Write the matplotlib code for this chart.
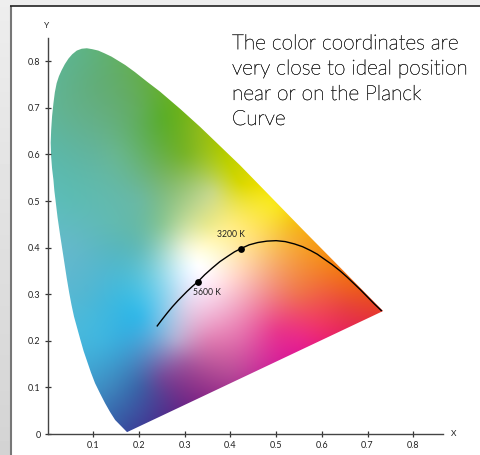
import numpy as np
import matplotlib
matplotlib.use("Agg")
import matplotlib.pyplot as plt
import matplotlib.patheffects as pe
from matplotlib.colors import to_rgb
from matplotlib.patches import Polygon

# Gamut outline
locus_x = [0.174,0.161,0.148,0.137,0.126,0.115,0.104,0.095,0.087,0.079,0.072,0.065,0.058,0.0525,0.0475,0.042,0.037,0.032,0.027,0.022,0.018,0.015,0.013,0.010,0.008,0.007,0.008,0.010,0.013,0.016,0.020,0.025,0.031,0.038,0.046,0.054,0.064,0.075,0.086,0.098,0.111,0.125,0.140,0.155,0.170,0.191,0.218,0.246,0.290,0.334,0.421,0.559,0.734]
locus_y = [0.004,0.017,0.030,0.047,0.066,0.087,0.109,0.132,0.155,0.178,0.202,0.227,0.252,0.277,0.303,0.335,0.367,0.399,0.431,0.465,0.498,0.522,0.545,0.570,0.595,0.625,0.652,0.682,0.710,0.733,0.753,0.768,0.781,0.794,0.806,0.815,0.823,0.827,0.828,0.826,0.823,0.817,0.810,0.801,0.792,0.777,0.756,0.735,0.698,0.659,0.577,0.438,0.264]

# Colour samples: x, y, colour
sample_x = [0.08,0.03,0.015,0.05,0.05,0.08,0.12,0.14,0.175,0.20,0.15,0.20,0.15,0.20,0.25,0.30,0.38,0.42,0.48,0.55,0.60,0.66,0.72,0.33,0.30,0.25,0.35,0.40,0.45,0.50,0.55,0.60,0.65,0.45,0.38,0.30,0.27,0.28,0.35,0.42,0.50,0.55,0.60,0.30,0.40,0.25,0.25,0.20,0.10,0.10,0.15,0.20,0.12,0.46,0.50,0.53,0.33,0.25,0.20,0.36]
sample_y = [0.81,0.70,0.60,0.50,0.40,0.30,0.20,0.10,0.02,0.10,0.25,0.25,0.60,0.70,0.68,0.60,0.58,0.54,0.50,0.43,0.37,0.31,0.27,0.36,0.40,0.45,0.45,0.45,0.38,0.35,0.30,0.30,0.27,0.30,0.28,0.28,0.30,0.20,0.20,0.20,0.22,0.20,0.23,0.15,0.13,0.12,0.08,0.05,0.60,0.75,0.45,0.50,0.33,0.53,0.49,0.45,0.65,0.55,0.40,0.52]
sample_c = ['#5fb283','#62b391','#5db8a8','#5dbcb5','#63b9c9','#52b7d3','#3fb3de','#3e84bd','#3a4f9f','#3f62a7','#39b6e2','#38b8e8','#68b68e','#62ad58','#5cae2c','#7ab52a','#b8cf10','#d8d800','#f8e820','#f7b020','#f58a1e','#ee5d22','#e8402a','#ffffff','#e9f2d8','#8cc796','#e8e98e','#fdec80','#fdd090','#f6a26b','#f0714f','#f06040','#e8423f','#f4a0a8','#f4bfd7','#d8d4ec','#a8d8f0','#b0a8d0','#dc80b4','#e06aaa','#e83a8c','#e8278a','#ee3366','#a05aa0','#b84a98','#724b9a','#5a3d92','#3f4f9f','#63b59c','#62ae7a','#62bab0','#6cb9a0','#4fb8d4','#ecdf05','#f9e61c','#f6c31d','#8dbb1a','#78b66a','#66bcb8','#c8d880']

# Planck curve
planck_x = [0.240,0.250,0.262,0.273,0.285,0.295,0.305,0.317,0.329,0.344,0.360,0.377,0.395,0.409,0.423,0.441,0.460,0.480,0.500,0.520,0.540,0.558,0.575,0.590,0.603,0.622,0.640,0.655,0.669,0.685,0.700,0.715,0.730]
planck_y = [0.232,0.245,0.260,0.273,0.286,0.296,0.306,0.317,0.327,0.342,0.356,0.370,0.382,0.391,0.398,0.406,0.411,0.414,0.415,0.413,0.408,0.402,0.394,0.386,0.377,0.364,0.350,0.337,0.324,0.309,0.294,0.279,0.265]
marker_x = [0.329,0.423]
marker_y = [0.327,0.398]
marker_labels = ['5600 K','3200 K']
x_ticks = [0.1,0.2,0.3,0.4,0.5,0.6,0.7,0.8]
y_ticks = [0,0.1,0.2,0.3,0.4,0.5,0.6,0.7,0.8]
y_labels = ['0','0.1','0.2','0.3','0.4','0.5','0.6','0.7','0.8']
caption_lines = ['The color coordinates are', 'very close to ideal position', 'near or on the Planck', 'Curve']

W, H = 481, 455
fig = plt.figure(figsize=(W/100, H/100), dpi=100, facecolor='white')

# Page backdrop and frame
bg = fig.add_axes([0, 0, 1, 1], zorder=0)
bg.set_xlim(0, W); bg.set_ylim(H, 0); bg.axis('off')
bg.imshow(np.linspace(0.93, 0.83, 64)[:, None], cmap='gray', vmin=0, vmax=1, extent=[0, 11, H, 0], aspect='auto')
bg.fill_between([0, W], 0, 6, color='#eeeeee', lw=0)
bg.fill_between([11, W], 6, H, color='white', lw=0)
bg.plot([11, 11], [6, H], color='#777777', lw=1.5, solid_capstyle='butt')
bg.plot([10, W], [6.3, 6.3], color='#222222', lw=1.2, solid_capstyle='butt')
bg.set_xlim(0, W); bg.set_ylim(H, 0)

# Chart
x0, x1, y0, y1 = 47.5, 443, 434, 38
ax = fig.add_axes([x0/W, 1-y0/H, (x1-x0)/W, (y0-y1)/H], zorder=1)
ax.patch.set_alpha(0)
xmax, ymax = 0.865, 0.85

# Smooth colour field through the samples (thin-plate surface)
sx, sy = np.array(sample_x), np.array(sample_y)
cols = np.array([to_rgb(c) for c in sample_c])
def phi(r2):
    return 0.5*r2*np.log(r2 + 1e-12)
n = len(sx)
K = phi((sx[:, None]-sx)**2 + (sy[:, None]-sy)**2) + 1e-4*np.eye(n)
P = np.column_stack([np.ones(n), sx, sy])
A = np.block([[K, P], [P.T, np.zeros((3, 3))]])
coef = np.linalg.solve(A, np.vstack([cols, np.zeros((3, 3))]))
gx = np.linspace(0, 0.76, 230)
gy = np.linspace(0, 0.84, 250)
X, Y = np.meshgrid(gx, gy)
F = phi((X[..., None]-sx)**2 + (Y[..., None]-sy)**2)
img = F @ coef[:n] + coef[n] + X[..., None]*coef[n+1] + Y[..., None]*coef[n+2]
img = np.clip(img, 0, 1)
im = ax.imshow(img, origin='lower', extent=[0, 0.76, 0, 0.84], aspect='auto', interpolation='bilinear', zorder=1)
poly = Polygon(np.column_stack([locus_x, locus_y]), closed=True, transform=ax.transData, fc='none', ec='none')
ax.add_patch(poly)
im.set_clip_path(poly)
ax.plot(planck_x, planck_y, color='black', lw=1.0, zorder=3)
ax.scatter(marker_x, marker_y, s=24, color='black', zorder=4, lw=0)
tickfont = ['Lato', 'DejaVu Sans']
ax.text(0.318, 0.303, marker_labels[0], fontsize=6.2, color='#222222', family=tickfont, ha='left', va='center', zorder=5)
ax.text(0.371, 0.429, marker_labels[1], fontsize=6.2, color='#222222', family=tickfont, ha='left', va='center', zorder=5)
ax.set_xlim(0, xmax); ax.set_ylim(0, ymax)
ax.set_xticks(x_ticks); ax.set_xticklabels([str(v) for v in x_ticks], family=tickfont, fontsize=6.5, color='#222222')
ax.set_yticks(y_ticks); ax.set_yticklabels(y_labels, family=tickfont, fontsize=6.5, color='#222222')
ax.tick_params(axis='both', direction='inout', length=4, width=0.9, color='#333333', pad=3)
for s in ['top', 'right']:
    ax.spines[s].set_visible(False)
for s in ['left', 'bottom']:
    ax.spines[s].set_color('#444444'); ax.spines[s].set_linewidth(1.0)
fig.text(47/W, 1-26/H, 'Y', fontsize=6, family=tickfont, color='#222222', ha='center', va='center', zorder=5)
fig.text(454/W, 1-434/H, 'X', fontsize=6, family=tickfont, color='#222222', ha='center', va='center', zorder=5)
for line, base in zip(caption_lines, [49.3, 74.5, 100, 125]):
    t = fig.text(232/W, 1-base/H, line, fontsize=15, family=['Lato', 'DejaVu Sans'], fontweight='light', color='#222222',
                 ha='left', va='baseline', zorder=5)
    t.set_path_effects([pe.withStroke(linewidth=0.3, foreground='#333333')])
fig.savefig('out.png', dpi=100)
